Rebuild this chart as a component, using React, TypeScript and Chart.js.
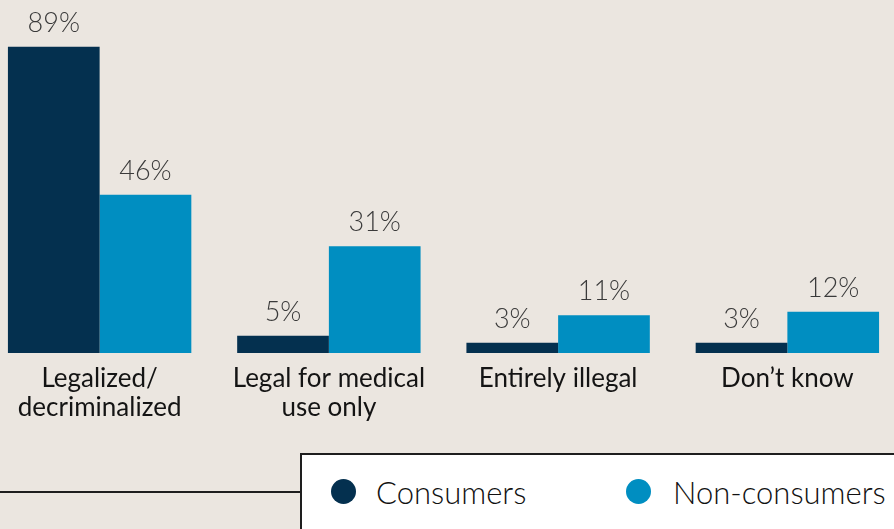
import React, { useEffect, useRef } from "react";
import { Chart, registerables } from "chart.js";

Chart.register(...registerables);

const categories: (string | string[])[] = [
  ["Legalized/", "decriminalized"],
  ["Legal for medical", "use only"],
  "Entirely illegal",
  "Don\u2019t know",
];
const consumers = [89, 5, 3, 3];
const nonConsumers = [46, 31, 11, 12];
const seriesNames = ["Consumers", "Non-consumers"];

const BG = "#ebe6e0";
const NAVY = "#04304f";
const BLUE = "#008ec1";
const FONT = "Lato, 'Open Sans', sans-serif";

const valueLabels = {
  id: "valueLabels",
  afterDatasetsDraw(chart: any) {
    const ctx = chart.ctx;
    ctx.save();
    ctx.font = `300 27px ${FONT}`;
    ctx.fillStyle = "#3a3a3a";
    ctx.textAlign = "center";
    ctx.textBaseline = "alphabetic";
    chart.data.datasets.forEach((ds: any, i: number) => {
      const meta = chart.getDatasetMeta(i);
      meta.data.forEach((bar: any, j: number) => {
        ctx.fillText(`${ds.data[j]}%`, bar.x, bar.y - 15);
      });
    });
    ctx.restore();
  },
};

export default function App() {
  const ref = useRef<HTMLCanvasElement>(null);
  useEffect(() => {
    if (!ref.current) return;
    const chart = new Chart(ref.current, {
      type: "bar",
      data: {
        labels: categories,
        datasets: [
          { label: seriesNames[0], data: consumers, backgroundColor: NAVY, borderWidth: 0 },
          { label: seriesNames[1], data: nonConsumers, backgroundColor: BLUE, borderWidth: 0 },
        ],
      },
      options: {
        animation: false,
        responsive: false,
        devicePixelRatio: 1,
        layout: { padding: { top: 9, left: 0, right: 0, bottom: 0 } },
        plugins: { legend: { display: false }, tooltip: { enabled: false } },
        datasets: { bar: { categoryPercentage: 0.8, barPercentage: 1.0 } },
        scales: {
          x: {
            grid: { display: false, drawTicks: false },
            border: { display: false },
            ticks: {
              color: "#141414",
              padding: 11,
              maxRotation: 0,
              autoSkip: false,
              font: { family: FONT, size: 26, weight: "400", lineHeight: 1.12 },
            },
            afterFit(scale: any) {
              scale.height = 100;
            },
          },
          y: { display: false, min: 0, max: 100 },
        },
      },
      plugins: [valueLabels],
    } as any);
    return () => chart.destroy();
  }, []);

  return (
    <div
      style={{
        position: "fixed",
        left: 0,
        top: 0,
        width: 894,
        height: 529,
        overflow: "hidden",
        background: BG,
        fontFamily: FONT,
      }}
    >
      <canvas
        ref={ref}
        width={917}
        height={453}
        style={{ position: "absolute", left: -15, top: 0, width: 917, height: 453 }}
      />
      <div
        style={{
          position: "absolute",
          left: 0,
          top: 491,
          width: 301,
          height: 2,
          background: "#1e1e1e",
        }}
      />
      <div
        style={{
          position: "absolute",
          left: 300,
          top: 453,
          width: 620,
          height: 120,
          background: "#ffffff",
          border: "2px solid #1e1e1e",
          boxSizing: "border-box",
        }}
      />
      {[
        { name: seriesNames[0], color: NAVY, cx: 343.5, tx: 376 },
        { name: seriesNames[1], color: BLUE, cx: 638.5, tx: 673 },
      ].map((it) => (
        <React.Fragment key={it.name}>
          <div
            style={{
              position: "absolute",
              left: it.cx - 12.5,
              top: 479,
              width: 25,
              height: 25,
              borderRadius: "50%",
              background: it.color,
            }}
          />
          <div
            style={{
              position: "absolute",
              left: it.tx,
              top: 472,
              height: 40,
              lineHeight: "40px",
              fontSize: 31,
              fontWeight: 300,
              color: "#111",
              whiteSpace: "nowrap",
            }}
          >
            {it.name}
          </div>
        </React.Fragment>
      ))}
    </div>
  );
}
